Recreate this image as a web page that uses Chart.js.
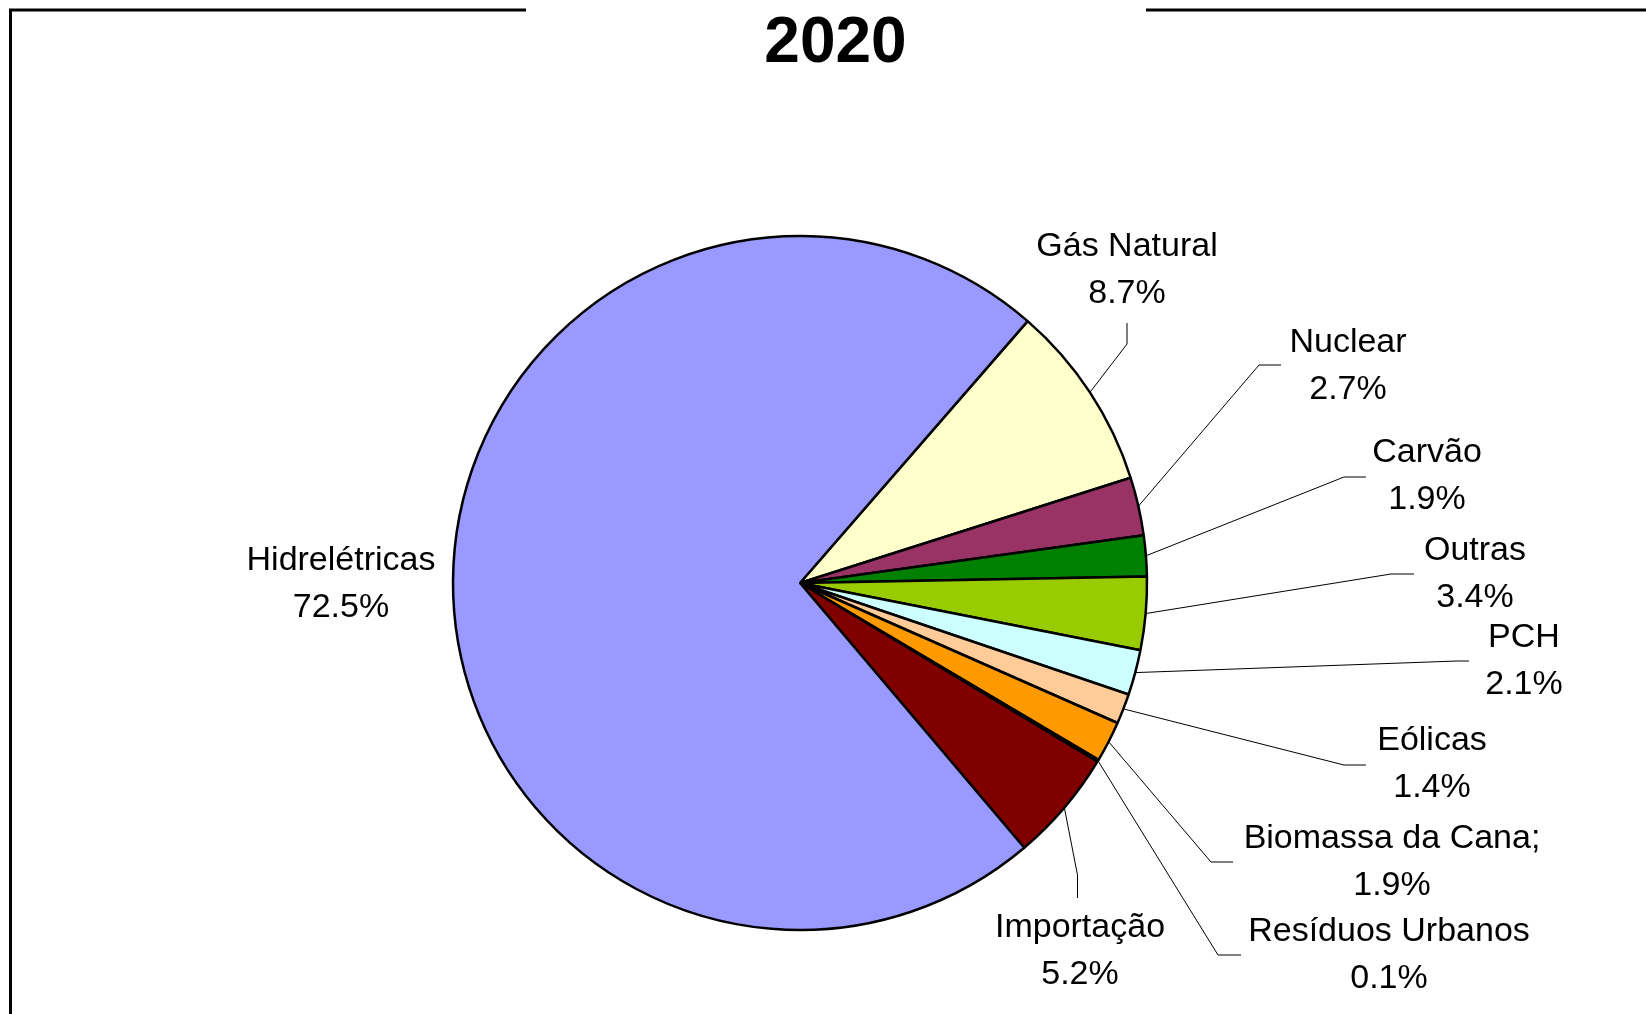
<!DOCTYPE html>
<html>
<head>
<meta charset="utf-8">
<script src="https://cdn.jsdelivr.net/npm/chart.js@4"></script>
<style>
  html, body { margin: 0; padding: 0; background: #ffffff; }
  canvas { display: block; }
</style>
</head>
<body>
<canvas id="c" width="1646" height="1014"></canvas>
<script>
// ---- data ----
const chartTitle = '2020';
const categories = ['Gás Natural', 'Nuclear', 'Carvão', 'Outras', 'PCH', 'Eólicas', 'Biomassa da Cana;', 'Resíduos Urbanos', 'Importação', 'Hidrelétricas'];
const shares = [8.7, 2.7, 1.9, 3.4, 2.1, 1.4, 1.9, 0.1, 5.2, 72.5];
const sliceColors = ['#FFFFCC', '#993366', '#008000', '#99CC00', '#CCFFFF', '#FFCC99', '#FF9900', '#333333', '#800000', '#9999FF'];

// ---- label layout (positions only) ----
const labelLayout = [
  { cx: 1127, by: 256,   elbow: [1127, 344],   end: [1127, 323] },
  { cx: 1348, by: 352,   elbow: [1259, 365],   end: [1281, 365] },
  { cx: 1427, by: 462,   elbow: [1344, 477],   end: [1366, 477] },
  { cx: 1475, by: 560,   elbow: [1391, 574],   end: [1414, 574] },
  { cx: 1524, by: 647,   elbow: [1457, 661],   end: [1469, 661] },
  { cx: 1432, by: 750,   elbow: [1344, 765],   end: [1366, 765] },
  { cx: 1392, by: 848,   elbow: [1211, 862],   end: [1233, 862] },
  { cx: 1389, by: 941,   elbow: [1218, 955],   end: [1241, 955] },
  { cx: 1080, by: 937,   elbow: [1077.5, 875], end: [1077.5, 898] },
  { cx: 341,  by: 570,   elbow: null,          end: null }
];
const lineGap = 47;

const decorPlugin = {
  id: 'decor',
  afterDraw(chart) {
    const ctx = chart.ctx;
    const meta = chart.getDatasetMeta(0);
    ctx.save();
    // frame
    ctx.strokeStyle = '#000';
    ctx.lineWidth = 3;
    ctx.beginPath();
    ctx.moveTo(526, 10); ctx.lineTo(10.5, 10); ctx.lineTo(10.5, 1014);
    ctx.moveTo(1146, 10); ctx.lineTo(1646, 10);
    ctx.stroke();
    // title
    ctx.fillStyle = '#000';
    ctx.font = 'bold 64px "Liberation Sans", Arial, sans-serif';
    ctx.textAlign = 'center';
    ctx.textBaseline = 'alphabetic';
    ctx.fillText(chartTitle, 835.5, 62);
    // leaders & labels
    ctx.font = '34px "Liberation Sans", Arial, sans-serif';
    meta.data.forEach((arc, i) => {
      const L = labelLayout[i];
      if (L.elbow) {
        const mid = (arc.startAngle + arc.endAngle) / 2;
        const px = arc.x + Math.cos(mid) * arc.outerRadius;
        const py = arc.y + Math.sin(mid) * arc.outerRadius;
        ctx.strokeStyle = '#000';
        ctx.lineWidth = 1;
        ctx.beginPath();
        ctx.moveTo(px, py);
        ctx.lineTo(L.elbow[0], L.elbow[1]);
        ctx.lineTo(L.end[0], L.end[1]);
        ctx.stroke();
      }
      ctx.fillStyle = '#000';
      ctx.fillText(categories[i], L.cx, L.by);
      ctx.fillText(shares[i].toFixed(1) + '%', L.cx, L.by + lineGap);
    });
    ctx.restore();
  }
};

new Chart(document.getElementById('c'), {
  type: 'pie',
  data: {
    labels: categories,
    datasets: [{
      data: shares,
      backgroundColor: sliceColors,
      borderColor: '#000000',
      borderWidth: 2.5,
      hoverOffset: 0
    }]
  },
  options: {
    responsive: false,
    animation: false,
    rotation: 41,
    radius: 347,
    layout: { padding: { left: 100, right: 146, top: 200, bottom: 48 } },
    plugins: {
      legend: { display: false },
      tooltip: { enabled: false },
      title: { display: false }
    }
  },
  plugins: [decorPlugin]
});
</script>
</body>
</html>
